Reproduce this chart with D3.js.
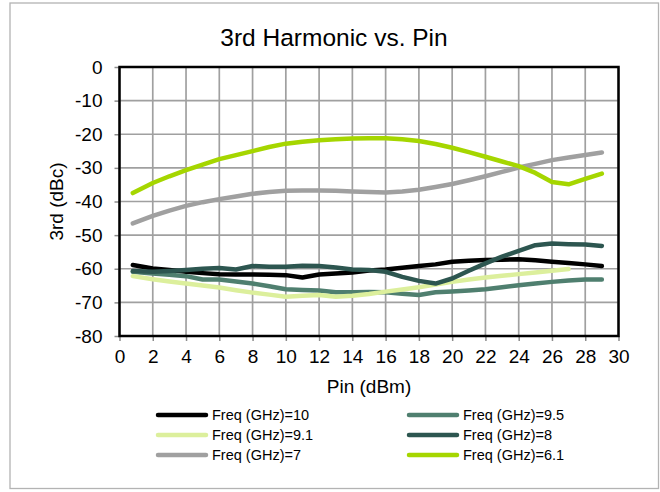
<!DOCTYPE html>
<html><head><meta charset="utf-8">
<script src="https://cdn.jsdelivr.net/npm/d3@7"></script>
<style>body{margin:0;background:#fff}svg{display:block}text{font-family:"Liberation Sans",Arial,sans-serif;fill:#000}</style>
</head><body><svg id="c" width="660" height="492"></svg>
<script>
const pin = [0.8,2,3,4,5,6,7,8,9,10,11,12,13,14,15,16,17,18,19,20,21,22,23,24,25,26,27,28,29];
const f10  = [-58.9,-59.9,-60.4,-60.9,-61.3,-61.6,-61.7,-61.7,-61.8,-61.9,-62.6,-61.7,-61.4,-61.1,-60.5,-60.2,-59.7,-59.2,-58.7,-57.9,-57.6,-57.4,-57.3,-57.2,-57.5,-57.9,-58.3,-58.7,-59.2];
const f95  = [-60.9,-61.4,-61.8,-62.2,-63.2,-63.2,-63.8,-64.4,-65.2,-66.1,-66.3,-66.5,-67.0,-67.0,-66.9,-67.0,-67.4,-67.8,-67.0,-66.8,-66.5,-66.1,-65.5,-64.9,-64.4,-63.9,-63.5,-63.2,-63.2];
const f91  = [-62.2,-63.1,-63.8,-64.4,-65.0,-65.6,-66.4,-67.1,-67.7,-68.3,-68.0,-67.8,-68.3,-68.0,-67.5,-66.8,-66.2,-65.5,-64.7,-63.9,-63.2,-62.6,-62.1,-61.6,-61.1,-60.6,-60.1,null,null];
const f8   = [-60.7,-60.9,-60.7,-60.4,-60.0,-59.8,-60.2,-59.2,-59.4,-59.4,-59.1,-59.2,-59.6,-60.2,-60.4,-60.9,-62.4,-63.6,-64.4,-62.9,-60.6,-58.4,-56.4,-54.7,-53.0,-52.5,-52.7,-52.8,-53.2];
const f7   = [-46.5,-44.3,-42.7,-41.3,-40.2,-39.3,-38.5,-37.7,-37.2,-36.8,-36.7,-36.7,-36.8,-37.0,-37.2,-37.3,-37.0,-36.5,-35.7,-34.8,-33.7,-32.5,-31.2,-29.9,-28.8,-27.7,-26.9,-26.2,-25.4];
const f61  = [-37.5,-34.5,-32.5,-30.7,-29.0,-27.4,-26.2,-25.0,-23.8,-22.8,-22.2,-21.8,-21.5,-21.3,-21.2,-21.2,-21.5,-22.0,-22.9,-24.0,-25.3,-26.7,-28.1,-29.5,-31.5,-34.2,-34.9,-33.3,-31.7];
const seriesNames = ["Freq (GHz)=10","Freq (GHz)=9.5","Freq (GHz)=9.1","Freq (GHz)=8","Freq (GHz)=7","Freq (GHz)=6.1"];
const seriesValues = [f10,f95,f91,f8,f7,f61];
const colors = ["#000000","#4f7f6f","#dcef9c","#2d5650","#a0a0a0","#a5d600"];
const xTicks = d3.range(0,31,2);
const yTicks = d3.range(-80,1,10);

const svg = d3.select("#c");
svg.append("rect").attr("x",10).attr("y",3).attr("width",648.5).attr("height",485.5)
  .attr("fill","#fff").attr("stroke","#b3b3b3").attr("stroke-width",1.3);

const L=119.5,R=618.5,T=67,B=336;
const x = d3.scaleLinear().domain([0,30]).range([L,R]);
const y = d3.scaleLinear().domain([-80,0]).range([B,T]);

// grid
const g = svg.append("g");
g.selectAll(".vg").data(xTicks).join("line").attr("x1",d=>x(d)).attr("x2",d=>x(d)).attr("y1",T).attr("y2",B)
  .attr("stroke","#a0a0a0").attr("stroke-width",1.7);
g.selectAll(".hg").data(yTicks).join("line").attr("y1",d=>y(d)).attr("y2",d=>y(d)).attr("x1",L).attr("x2",R)
  .attr("stroke","#a0a0a0").attr("stroke-width",1.7);

// axes
const xa = svg.append("g").attr("transform",`translate(0,${B})`)
  .call(d3.axisBottom(x).tickValues(xTicks).tickSize(5).tickPadding(9).tickFormat(d3.format("d")));
const ya = svg.append("g").attr("transform",`translate(${L},0)`)
  .call(d3.axisLeft(y).tickValues(yTicks).tickSize(5).tickPadding(12).tickFormat(d=>String(d)));
[xa,ya].forEach(a=>{a.select(".domain").remove();a.selectAll(".tick line").attr("stroke","#8c8c8c").attr("stroke-width",1.5);
  a.selectAll(".tick text").attr("font-size","19px").attr("font-family","Liberation Sans, Arial, sans-serif").attr("fill","#000");});

// border
svg.append("rect").attr("x",L).attr("y",T).attr("width",R-L).attr("height",B-T)
  .attr("fill","none").attr("stroke","#000").attr("stroke-width",2.5);

// lines
const line = d3.line().defined(d=>d[1]!=null).x(d=>x(d[0])).y(d=>y(d[1]));
seriesValues.forEach((vals,i)=>{
  svg.append("path").datum(pin.map((p,j)=>[p,vals[j]])).attr("d",line)
    .attr("fill","none").attr("stroke",colors[i]).attr("stroke-width",4.5)
    .attr("stroke-linejoin","round").attr("stroke-linecap","round");
});

// titles
svg.append("text").attr("x",334).attr("y",46).attr("text-anchor","middle").attr("font-size","24.5px").text("3rd Harmonic vs. Pin");
svg.append("text").attr("x",(L+R)/2).attr("y",393).attr("text-anchor","middle").attr("font-size","19px").text("Pin (dBm)");
svg.append("text").attr("transform",`translate(63,${(T+B)/2}) rotate(-90)`).attr("text-anchor","middle").attr("font-size","19px").text("3rd (dBc)");

// legend
const lg = svg.append("g");
seriesNames.forEach((n,i)=>{
  const col=i%2,row=Math.floor(i/2);
  const lx = col===0?156:407, ly = 415+row*20;
  lg.append("line").attr("x1",lx+2).attr("x2",lx+50).attr("y1",ly).attr("y2",ly)
    .attr("stroke",colors[i]).attr("stroke-width",4.5).attr("stroke-linecap","round");
  lg.append("text").attr("x",lx+56).attr("y",ly+5).attr("font-size","14.5px").text(n);
});
</script></body></html>
